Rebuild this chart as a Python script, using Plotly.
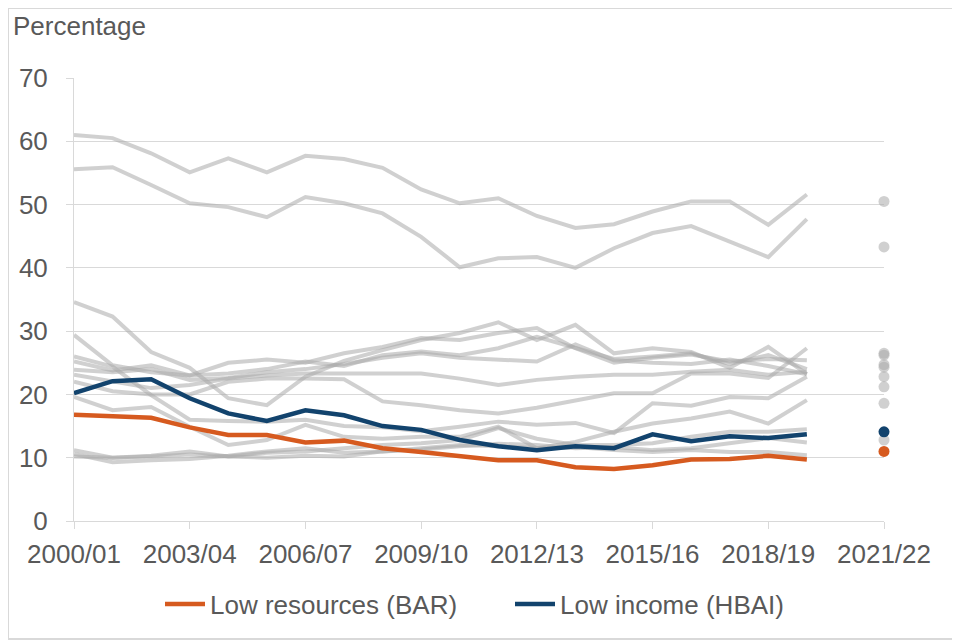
import plotly.graph_objects as go

years = ["2000/01", "2001/02", "2002/03", "2003/04", "2004/05", "2005/06", "2006/07",
         "2007/08", "2008/09", "2009/10", "2010/11", "2011/12", "2012/13", "2013/14",
         "2014/15", "2015/16", "2016/17", "2017/18", "2018/19", "2019/20", "2020/21", "2021/22"]
line_years = years[:20]
dot_year = "2021/22"
tick_labels = ["2000/01", "2003/04", "2006/07", "2009/10", "2012/13", "2015/16", "2018/19", "2021/22"]

bar_low_resources = [16.8, 16.6, 16.3, 14.8, 13.6, 13.6, 12.4, 12.7, 11.5, 10.9,
                     10.2, 9.6, 9.6, 8.5, 8.2, 8.8, 9.7, 9.8, 10.3, 9.7]
bar_dot = 11.0
hbai_low_income = [20.2, 22.1, 22.4, 19.4, 17.0, 15.8, 17.5, 16.7, 15.0, 14.4,
                   12.8, 11.8, 11.2, 11.8, 11.5, 13.7, 12.6, 13.4, 13.1, 13.7]
hbai_dot = 14.1

g01 = [61.0, 60.5, 58.1, 55.1, 57.3, 55.1, 57.7, 57.2, 55.8, 52.4, 50.2, 51.0, 48.2, 46.3, 46.9, 48.9, 50.5, 50.5, 46.8, 51.6]
g02 = [55.6, 55.9, 53.1, 50.2, 49.6, 48.0, 51.2, 50.2, 48.6, 44.9, 40.1, 41.5, 41.7, 40.0, 43.1, 45.5, 46.6, 44.1, 41.7, 47.7]
g03 = [34.6, 32.3, 26.7, 24.2, 19.4, 18.3, 22.8, 25.3, 27.0, 28.6, 29.7, 31.4, 28.6, 31.0, 26.5, 27.3, 26.7, 24.2, 27.5, 23.2]
g04 = [29.4, 24.6, 23.5, 23.0, 25.0, 25.5, 25.0, 26.5, 27.5, 28.9, 28.6, 29.7, 30.5, 27.3, 25.0, 25.8, 26.3, 25.2, 25.6, 25.4]
g05 = [25.2, 23.8, 24.6, 23.0, 23.3, 24.0, 25.2, 24.5, 26.2, 26.8, 26.2, 27.3, 29.1, 27.3, 25.6, 26.0, 26.5, 24.8, 26.2, 24.0]
g06 = [23.9, 23.5, 24.0, 22.3, 22.6, 23.5, 24.0, 24.8, 25.8, 26.5, 25.8, 25.5, 25.2, 27.9, 25.4, 25.0, 24.8, 25.5, 24.5, 23.2]
g07 = [23.1, 22.0, 21.0, 21.5, 22.5, 23.0, 23.3, 23.3, 23.3, 23.3, 22.5, 21.5, 22.3, 22.8, 23.1, 23.1, 23.6, 23.9, 23.1, 23.6]
g08 = [22.0, 20.5, 20.0, 20.0, 22.0, 22.5, 22.5, 22.4, 18.9, 18.3, 17.5, 17.0, 17.9, 19.1, 20.2, 20.2, 23.3, 23.3, 22.6, 27.3]
g09 = [26.0, 24.4, 19.9, 16.0, 15.8, 15.7, 16.0, 15.0, 14.8, 14.2, 14.9, 15.7, 15.2, 15.5, 13.9, 18.6, 18.2, 19.6, 19.4, 22.8]
g10 = [19.6, 17.5, 18.0, 14.9, 12.0, 12.8, 15.2, 13.3, 13.0, 13.3, 13.3, 14.9, 11.5, 12.5, 14.1, 15.4, 16.2, 17.3, 15.4, 19.1]
g11 = [11.2, 10.0, 10.2, 10.5, 10.2, 10.8, 11.0, 11.5, 12.0, 12.3, 12.8, 14.7, 13.0, 12.0, 12.0, 12.3, 13.3, 14.1, 14.1, 14.5]
g12 = [10.6, 9.3, 9.6, 9.8, 10.3, 11.0, 11.5, 10.8, 11.0, 11.3, 11.8, 12.2, 12.0, 11.5, 11.7, 11.2, 11.5, 12.3, 13.1, 12.4]
g13 = [10.2, 10.0, 10.3, 11.0, 10.2, 10.0, 10.3, 10.2, 11.0, 11.5, 12.0, 11.8, 11.5, 11.7, 11.2, 10.9, 11.2, 10.9, 10.9, 10.4]
gray_series = [g01, g02, g03, g04, g05, g06, g07, g08, g09, g10, g11, g12, g13]
gray_dots = [50.5, 43.3, 26.5, 26.2, 24.7, 24.3, 22.8, 21.2, 18.6, None, 12.8, None, None]

GRAY = "rgba(170,170,170,0.55)"
ORANGE = "#D65A1F"
BLUE = "#12436D"
TEXT = "#595959"
GRID = "#d9d9d9"
FONT = "Liberation Sans, Arial, sans-serif"
FS = 26

fig = go.Figure()

for s in gray_series:
    fig.add_trace(go.Scatter(x=line_years, y=s, mode="lines",
                             line=dict(color=GRAY, width=4), showlegend=False, hoverinfo="skip"))
for d in gray_dots:
    if d is not None:
        fig.add_trace(go.Scatter(x=[dot_year], y=[d], mode="markers", cliponaxis=False,
                                 marker=dict(color=GRAY, size=11), showlegend=False, hoverinfo="skip"))

fig.add_trace(go.Scatter(x=line_years, y=bar_low_resources, mode="lines", name="Low resources (BAR)",
                         line=dict(color=ORANGE, width=4.5)))
fig.add_trace(go.Scatter(x=[dot_year], y=[bar_dot], mode="markers", showlegend=False, cliponaxis=False,
                         marker=dict(color=ORANGE, size=11)))
fig.add_trace(go.Scatter(x=line_years, y=hbai_low_income, mode="lines", name="Low income (HBAI)",
                         line=dict(color=BLUE, width=4.5)))
fig.add_trace(go.Scatter(x=[dot_year], y=[hbai_dot], mode="markers", showlegend=False, cliponaxis=False,
                         marker=dict(color=BLUE, size=11)))

# page offset of the plotly div inside the browser window
OX, OY = 8, 8
W, H = 952, 632
L, T = 74 - OX, 78 - OY
R = (W + OX) - 884
B = (H + OY) - 521
pw, ph = W - L - R, H - T - B

fig.update_layout(
    width=W, height=H,
    margin=dict(l=L, r=R, t=T, b=B, pad=0),
    paper_bgcolor="white", plot_bgcolor="white",
    font=dict(family=FONT, size=FS, color=TEXT),
    showlegend=True,
    legend=dict(orientation="h", x=0.5 + 31 / pw, xanchor="center", y=(521 - 604) / ph, yanchor="middle",
                font=dict(size=FS, color=TEXT), itemwidth=40, traceorder="normal",
                entrywidth=295, entrywidthmode="pixels"),
    xaxis=dict(type="category", categoryorder="array", categoryarray=years,
               range=[0, 21], tickmode="array", tickvals=tick_labels, ticktext=tick_labels,
               showgrid=False, showline=True, linecolor=GRID, linewidth=1,
               ticks="outside", ticklen=7, tickcolor=GRID, tickangle=0,
               tickfont=dict(size=FS, color=TEXT), ticklabelstandoff=3, zeroline=False),
    yaxis=dict(range=[0, 70], dtick=10, showgrid=True, gridcolor=GRID, gridwidth=1,
               showline=True, linecolor=GRID, linewidth=1, ticks="outside", ticklen=7,
               tickcolor=GRID, tickfont=dict(size=FS, color=TEXT), ticklabelstandoff=13,
               zeroline=False),
    annotations=[dict(text="Percentage", xref="paper", yref="paper", x=(11 - 74) / pw, y=(521 - 9) / ph,
                      xanchor="left", yanchor="top", showarrow=False,
                      font=dict(size=FS, color=TEXT))],
    shapes=[dict(type="rect", xref="paper", yref="paper",
                 x0=(0 - L) / pw, x1=(W - 1 - L) / pw, y0=-(B - 1) / ph, y1=(ph + T) / ph,
                 line=dict(color=GRID, width=2), fillcolor="rgba(0,0,0,0)", layer="below")],
)

fig.write_html("out.html")
